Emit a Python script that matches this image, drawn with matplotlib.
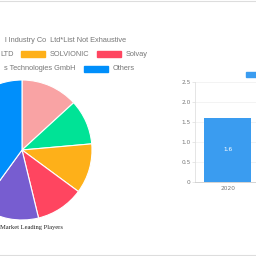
import matplotlib
matplotlib.use("Agg")
import matplotlib.pyplot as plt
from matplotlib.patches import Rectangle
from matplotlib.lines import Line2D

# ---- data (legend labels as visible in the cropped reference) ----
pie_labels = ["l Industry Co  Ltd*List Not Exhaustive",
              "LTD", "SOLVIONIC", "Solvay",
              "s Technologies GmbH", "Others"]
pie_values = [13.2, 10.4, 11.5, 11.1, 13.8, 40.0]
pie_colors = ["#F9A3A4", "#00E396", "#FEB019", "#FF4560", "#775DD0", "#008FFB"]
pie_title = "Market Leading Players"

bar_years = ["2020"]
bar_values = [1.6]
bar_color = "#3A9CF0"
y_ticks = [0, 0.5, 1.0, 1.5, 2.0, 2.5]
y_tick_labels = ["0", "0.5", "1.0", "1.5", "2.0", "2.5"]

W = H = 256
fig = plt.figure(figsize=(2.56, 2.56), dpi=100)
fig.patch.set_facecolor("white")

def fx(px):
    return px / W

def fy(py):
    return 1 - py / H

# top / bottom separator lines
fig.add_artist(Line2D([0, 1], [fy(0.5), fy(0.5)], color="#dddddd", lw=0.8))
fig.add_artist(Line2D([0, 1], [fy(255), fy(255)], color="#dddddd", lw=0.8))

# ---- pie ----
cx, cy, r = 22, 150, 70
axp = fig.add_axes([fx(cx - r), fy(cy + r), 2 * r / W, 2 * r / H])
axp.pie(pie_values, colors=pie_colors, startangle=90, counterclock=False,
        wedgeprops=dict(edgecolor="white", linewidth=0.8))
axp.set_xlim(-1, 1)
axp.set_ylim(-1, 1)
axp.set_aspect("equal")
axp.axis("off")

# legend (cropped layout)
lfont = dict(family="Liberation Sans", fontsize=5.3, color="#777777", va="center")
fig.text(fx(126), fy(41), pie_labels[0], ha="right", **lfont)
fig.text(fx(14), fy(54.3), pie_labels[1], ha="right", **lfont)
fig.add_artist(Rectangle((fx(21), fy(57.3)), fx(24), 6 / H, color=pie_colors[2], transform=fig.transFigure))
fig.text(fx(50), fy(54.3), pie_labels[2], ha="left", **lfont)
fig.add_artist(Rectangle((fx(97), fy(57.3)), fx(24), 6 / H, color=pie_colors[3], transform=fig.transFigure))
fig.text(fx(126), fy(54.3), pie_labels[3], ha="left", **lfont)
fig.text(fx(76), fy(69), pie_labels[4], ha="right", **lfont)
fig.add_artist(Rectangle((fx(84), fy(72)), fx(24), 6 / H, color=pie_colors[5], transform=fig.transFigure))
fig.text(fx(113), fy(69), pie_labels[5], ha="left", **lfont)

fig.text(fx(63), fy(227.3), pie_title, ha="right", va="center",
         family="Liberation Serif", fontsize=4.7, color="#222222")

# ---- bar chart ----
axb = fig.add_axes([fx(195), fy(181.7), 65.6 / W, 100 / H])
x = list(range(len(bar_years)))
bars = axb.bar(x, bar_values, width=0.716, color=bar_color)
for b, v in zip(bars, bar_values):
    axb.text(b.get_x() + b.get_width() / 2, v / 2, f"{v}", ha="center", va="center",
             color="white", fontsize=4.2)
axb.set_xlim(-0.5, 0.5)
axb.set_ylim(0, 2.5)
axb.set_yticks(y_ticks)
axb.set_yticklabels(y_tick_labels)
axb.set_xticks(x)
axb.set_xticklabels(bar_years)
axb.tick_params(axis="y", length=2.2, width=0.5, color="#dddddd", pad=1, labelsize=4.2, labelcolor="#777777")
axb.tick_params(axis="x", length=0, pad=3, labelsize=4.2, labelcolor="#777777")
axb.grid(axis="y", color="#eeeeee", lw=0.5)
axb.set_axisbelow(True)
for s in ["top", "right"]:
    axb.spines[s].set_visible(False)
axb.spines["left"].set_color("#e0e0e0")
axb.spines["left"].set_linewidth(0.6)
axb.spines["bottom"].set_color("#cccccc")
axb.spines["bottom"].set_linewidth(0.6)

# bar legend marker (cropped)
fig.add_artist(Rectangle((fx(245.7), fy(76.7)), fx(14), 5 / H, color=bar_color, transform=fig.transFigure))

fig.savefig("out.png", dpi=100, facecolor="white")
